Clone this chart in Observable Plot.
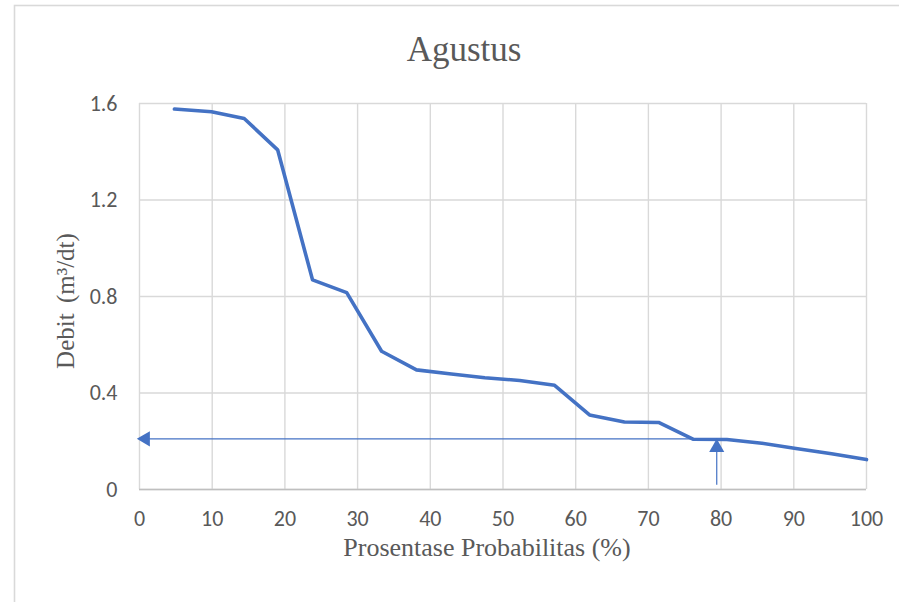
<!DOCTYPE html>
<html>
<head>
<meta charset="utf-8">
<script src="https://cdn.jsdelivr.net/npm/d3@7"></script>
<script src="https://cdn.jsdelivr.net/npm/@observablehq/plot@0.6"></script>
<style>
  html, body { margin: 0; padding: 0; background: #ffffff; }
  #chart { position: relative; width: 899px; height: 602px; overflow: hidden; }
</style>
</head>
<body>
<div id="chart"></div>
<script>
// ---- data ----
const titleText = "Agustus";
const xLabel = "Prosentase Probabilitas (%)";
const yLabel = "Debit (m³/dt)";

const probability = [4.8, 9.9, 14.4, 19.0, 23.8, 28.5, 33.3, 38.1, 42.9, 47.5, 52.3, 57.1, 61.9, 66.7, 71.4, 76.2, 80.8, 85.6, 90.3, 95.2, 100];
const debit = [1.577, 1.566, 1.538, 1.408, 0.869, 0.816, 0.573, 0.496, 0.479, 0.463, 0.452, 0.432, 0.309, 0.280, 0.278, 0.208, 0.207, 0.192, 0.170, 0.148, 0.124];

const xTicks = [0, 10, 20, 30, 40, 50, 60, 70, 80, 90, 100];
const yTicks = [0, 0.4, 0.8, 1.2, 1.6];

// reading guide (arrows)
const guideX = 79.4;      // probability where the vertical arrow sits
const guideY = 0.21;
const guideStartY = 0.02; // bottom end of the vertical arrow
const guideEndX = 0;      // left end of the horizontal arrow

// ---- build table ----
const curve = probability.map((p, i) => ({p, q: debit[i]}));

const blue = "#4472C4";
const grid = "#d9d9d9";
const textGray = "#595959";
const sansFont = "Carlito, Calibri, 'Liberation Sans', Arial, sans-serif";
const serifFont = "'Liberation Serif', 'Times New Roman', serif";

const plot = Plot.plot({
  width: 899,
  height: 602,
  marginLeft: 139,
  marginRight: 33,
  marginTop: 103,
  marginBottom: 113,
  x: {domain: [0, 100]},
  y: {domain: [0, 1.6]},
  style: {background: "white", fontFamily: sansFont, fontSize: "22px", color: textGray, overflow: "visible"},
  marks: [
    Plot.gridX(xTicks, {stroke: grid, strokeOpacity: 1, strokeWidth: 1.4}),
    Plot.gridY(yTicks, {stroke: grid, strokeOpacity: 1, strokeWidth: 1.4}),
    Plot.ruleY([0], {stroke: "#bfbfbf", strokeWidth: 1.6}),
    Plot.axisX(xTicks, {tickSize: 0, tickPadding: 21, fontSize: 22, fill: textGray, label: null}),
    Plot.axisY(yTicks, {tickSize: 0, tickPadding: 22, fontSize: 22, fill: textGray, label: null,
      tickFormat: d => d === 0 ? "0" : d.toFixed(1)}),
    Plot.line(curve, {x: "p", y: "q", stroke: blue, strokeWidth: 3.6, strokeLinejoin: "round"}),
    // horizontal guide
    Plot.link([{x1: guideEndX, x2: guideX, y: guideY}], {x1: "x1", x2: "x2", y1: "y", y2: "y", stroke: blue, strokeWidth: 1.2}),
    Plot.dot([{x: guideEndX, y: guideY}], {x: "x", y: "y", symbol: "triangle", r: 5.6, rotate: -90, fill: blue, stroke: "none", dx: 6}),
    // vertical guide
    Plot.link([{x: guideX, y1: guideStartY, y2: guideY}], {x1: "x", x2: "x", y1: "y1", y2: "y2", stroke: blue, strokeWidth: 1.2}),
    Plot.dot([{x: guideX, y: guideY}], {x: "x", y: "y", symbol: "triangle", r: 5.6, fill: blue, stroke: "none", dy: 8.7})
  ]
});

document.getElementById("chart").appendChild(plot);

// chart frame, title and axis titles
const svg = d3.select(plot);
svg.insert("rect", ":first-child")
  .attr("x", 14.5).attr("y", 5.5).attr("width", 1200).attr("height", 1200)
  .attr("fill", "none").attr("stroke", grid).attr("stroke-width", 1.6);

svg.append("text")
  .attr("x", 464).attr("y", 61)
  .attr("text-anchor", "middle")
  .attr("font-family", serifFont).attr("font-size", 35)
  .attr("fill", textGray)
  .text(titleText);

svg.append("text")
  .attr("x", 487).attr("y", 556)
  .attr("text-anchor", "middle")
  .attr("font-family", serifFont).attr("font-size", 26)
  .attr("fill", textGray)
  .text(xLabel);

svg.append("text")
  .attr("transform", "translate(74,301) rotate(-90)")
  .attr("text-anchor", "middle")
  .attr("font-family", serifFont).attr("font-size", 25)
  .attr("fill", textGray)
  .attr("word-spacing", 4)
  .text(yLabel);
</script>
</body>
</html>
